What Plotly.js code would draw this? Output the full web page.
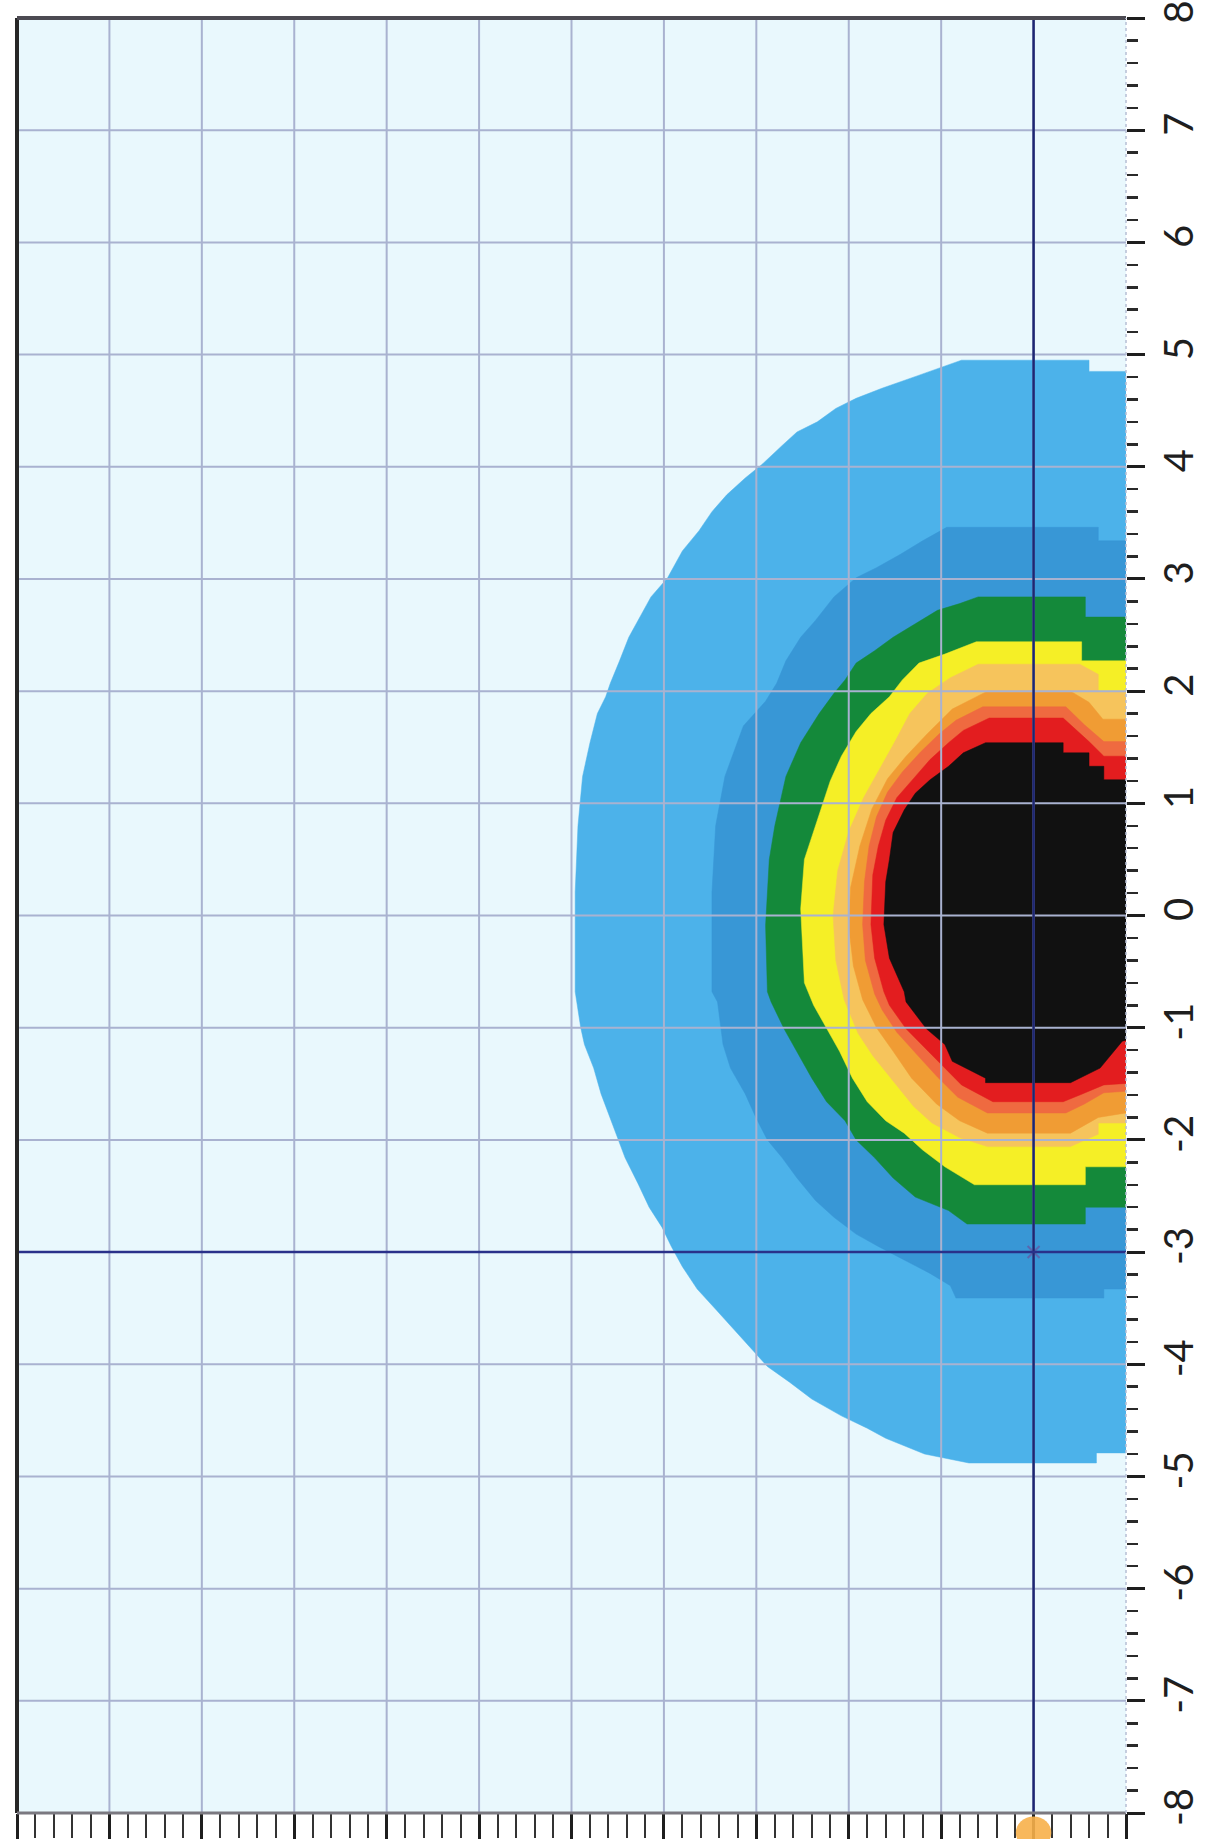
<!DOCTYPE html>
<html>
<head>
<meta charset="utf-8">
<script src="https://cdn.plot.ly/plotly-3.0.1.min.js"></script>
<style>
  html, body { margin: 0; padding: 0; background: #ffffff; }
  #chart { width: 1205px; height: 1839px; }
</style>
</head>
<body>
<div id="chart"></div>
<script>
// ---- Data (band outlines, x = grid units 0..12, y = -8..8) ----
const lightBlueX = [12.3, 11.6, 11.6, 10.22, 9.74, 9.36, 9.08, 8.86, 8.66, 8.44, 8.28, 8.06, 7.88, 7.68, 7.52, 7.38, 7.20, 7.04, 6.86, 6.74, 6.62, 6.52, 6.42, 6.37, 6.28, 6.20, 6.12, 6.07, 6.04, 6.04, 6.10, 6.14, 6.24, 6.32, 6.48, 6.58, 6.72, 6.84, 6.98, 7.08, 7.20, 7.36, 7.56, 7.76, 7.96, 8.12, 8.36, 8.60, 8.92, 9.20, 9.40, 9.82, 10.30, 11.68, 11.68, 12.3];
const lightBlueY = [4.85, 4.85, 4.95, 4.95, 4.81, 4.70, 4.61, 4.52, 4.40, 4.31, 4.19, 4.02, 3.90, 3.75, 3.60, 3.43, 3.25, 3.01, 2.84, 2.66, 2.48, 2.27, 2.07, 1.95, 1.80, 1.54, 1.24, 0.80, 0.21, -0.68, -1.00, -1.15, -1.36, -1.59, -1.94, -2.16, -2.39, -2.60, -2.78, -2.95, -3.13, -3.33, -3.51, -3.69, -3.87, -4.02, -4.16, -4.31, -4.46, -4.57, -4.66, -4.80, -4.88, -4.88, -4.79, -4.79];

const midBlueX = [12.3, 11.70, 11.70, 10.06, 9.80, 9.56, 9.30, 9.08, 8.84, 8.64, 8.48, 8.32, 8.22, 8.10, 7.86, 7.66, 7.56, 7.52, 7.52, 7.58, 7.64, 7.72, 7.88, 8.00, 8.12, 8.28, 8.44, 8.64, 8.84, 9.08, 9.32, 9.60, 9.88, 10.10, 10.16, 11.76, 11.76, 12.3];
const midBlueY = [3.34, 3.34, 3.46, 3.46, 3.34, 3.22, 3.10, 3.01, 2.84, 2.63, 2.48, 2.27, 2.07, 1.91, 1.69, 1.24, 0.80, 0.21, -0.68, -0.77, -1.15, -1.36, -1.59, -1.81, -2.00, -2.16, -2.34, -2.54, -2.69, -2.84, -2.95, -3.07, -3.19, -3.30, -3.41, -3.41, -3.33, -3.33];

const greenX = [12.3, 11.56, 11.56, 10.40, 10.20, 9.96, 9.72, 9.48, 9.28, 9.08, 8.96, 8.84, 8.68, 8.48, 8.32, 8.20, 8.14, 8.10, 8.12, 8.16, 8.30, 8.44, 8.60, 8.76, 8.96, 9.08, 9.28, 9.48, 9.72, 10.08, 10.28, 11.56, 11.56, 12.3];
const greenY = [2.66, 2.66, 2.84, 2.84, 2.78, 2.72, 2.60, 2.48, 2.36, 2.25, 2.10, 1.98, 1.80, 1.54, 1.24, 0.80, 0.50, -0.09, -0.68, -0.77, -1.01, -1.21, -1.45, -1.66, -1.83, -2.00, -2.16, -2.34, -2.51, -2.63, -2.75, -2.75, -2.60, -2.60];

const yellowX = [12.3, 11.52, 11.52, 10.38, 10.04, 9.76, 9.58, 9.44, 9.24, 9.08, 8.92, 8.80, 8.70, 8.62, 8.52, 8.48, 8.52, 8.62, 8.76, 8.90, 9.04, 9.20, 9.40, 9.60, 9.80, 10.04, 10.36, 11.56, 11.56, 12.3];
const yellowY = [2.27, 2.27, 2.44, 2.44, 2.33, 2.25, 2.10, 1.95, 1.80, 1.64, 1.42, 1.20, 0.95, 0.75, 0.50, 0.06, -0.60, -0.80, -1.01, -1.21, -1.45, -1.66, -1.83, -1.94, -2.09, -2.24, -2.40, -2.40, -2.24, -2.24];

const paleOrangeX = [12.3, 11.70, 11.70, 11.50, 10.40, 10.10, 9.85, 9.66, 9.50, 9.33, 9.16, 9.00, 8.88, 8.83, 8.86, 8.95, 9.10, 9.26, 9.50, 9.70, 9.90, 10.20, 10.50, 11.40, 11.70, 11.70, 12.3];
const paleOrangeY = [2.00, 2.00, 2.15, 2.24, 2.24, 2.12, 1.98, 1.80, 1.55, 1.30, 1.05, 0.75, 0.40, 0.00, -0.40, -0.75, -1.05, -1.25, -1.50, -1.70, -1.85, -1.98, -2.06, -2.06, -1.95, -1.85, -1.85];

const orangeX = [12.3, 11.75, 11.60, 11.40, 10.50, 10.12, 9.85, 9.62, 9.42, 9.25, 9.12, 9.02, 9.00, 9.05, 9.15, 9.30, 9.48, 9.68, 9.95, 10.20, 10.50, 11.40, 11.70, 12.3];
const orangeY = [1.75, 1.75, 1.90, 2.00, 2.00, 1.84, 1.62, 1.42, 1.22, 0.95, 0.62, 0.25, -0.10, -0.45, -0.75, -1.00, -1.21, -1.45, -1.68, -1.83, -1.94, -1.94, -1.80, -1.72];

const salmonX = [12.3, 11.76, 11.55, 11.35, 10.45, 10.16, 9.98, 9.78, 9.58, 9.42, 9.30, 9.22, 9.17, 9.15, 9.18, 9.28, 9.36, 9.52, 9.76, 9.96, 10.18, 10.50, 11.35, 11.55, 11.76, 12.3];
const salmonY = [1.55, 1.55, 1.70, 1.86, 1.86, 1.74, 1.62, 1.46, 1.28, 1.10, 0.88, 0.62, 0.30, -0.08, -0.40, -0.70, -0.84, -1.04, -1.26, -1.44, -1.62, -1.76, -1.76, -1.68, -1.58, -1.55];

const redX = [12.3, 11.76, 11.60, 11.32, 10.52, 10.24, 10.08, 9.88, 9.70, 9.52, 9.40, 9.32, 9.26, 9.24, 9.28, 9.38, 9.44, 9.62, 9.86, 10.04, 10.22, 10.56, 11.32, 11.50, 11.76, 12.3];
const redY = [1.42, 1.42, 1.55, 1.76, 1.76, 1.65, 1.54, 1.39, 1.22, 1.05, 0.85, 0.62, 0.36, -0.08, -0.38, -0.68, -0.80, -1.01, -1.21, -1.36, -1.51, -1.66, -1.66, -1.60, -1.51, -1.48];

const blackX = [12.3, 11.76, 11.76, 11.60, 11.60, 11.32, 11.32, 10.48, 10.24, 10.08, 9.88, 9.72, 9.60, 9.48, 9.44, 9.40, 9.38, 9.44, 9.60, 9.62, 9.84, 10.04, 10.12, 10.48, 10.48, 11.40, 11.72, 11.96, 12.3];
const blackY = [1.21, 1.21, 1.33, 1.33, 1.45, 1.45, 1.54, 1.54, 1.45, 1.33, 1.21, 1.09, 0.94, 0.74, 0.50, 0.30, -0.08, -0.38, -0.68, -0.77, -1.01, -1.15, -1.30, -1.45, -1.49, -1.49, -1.36, -1.12, -1.05];

const bandColors = ["#4cb2ea", "#3897d6", "#14893a", "#f5ef26", "#f6c45c", "#f09c34", "#ef6a40", "#e31d1f", "#111111"];

const yTickValues = [-8, -7, -6, -5, -4, -3, -2, -1, 0, 1, 2, 3, 4, 5, 6, 7, 8];
const yTickLabels = ["-8", "-7", "-6", "-5", "-4", "-3", "-2", "-1", "0", "1", "2", "3", "4", "5", "6", "7", "8"];
const xGridValues = [1, 2, 3, 4, 5, 6, 7, 8, 9, 10, 11];
const yGridValues = [-7, -6, -5, -4, -3, -2, -1, 0, 1, 2, 3, 4, 5, 6, 7];
const cursorX = [11];
const cursorY = [-3];
const xMax = 12;

// ---- Build traces ----
const bandsX = [lightBlueX, midBlueX, greenX, yellowX, paleOrangeX, orangeX, salmonX, redX, blackX];
const bandsY = [lightBlueY, midBlueY, greenY, yellowY, paleOrangeY, orangeY, salmonY, redY, blackY];

const traces = bandsX.map((bx, i) => ({
  type: "scatter",
  mode: "lines",
  x: bx,
  y: bandsY[i],
  fill: "toself",
  fillcolor: bandColors[i],
  line: { width: 0.5, color: bandColors[i] },
  hoverinfo: "skip"
}));

traces.push({
  type: "scatter", mode: "markers",
  x: cursorX, y: cursorY,
  marker: { symbol: "x-thin-open", size: 12, color: "#5a66b0", line: { width: 2, color: "#5a66b0" } },
  hoverinfo: "skip"
});

// ---- Shapes: grid above the map, cursor lines, frame ----
const gridColor = "#a9b2d0";
const shapes = [];
xGridValues.forEach(v => shapes.push({ type: "line", layer: "above", xref: "x", yref: "paper", x0: v, x1: v, y0: 0, y1: 1, line: { color: gridColor, width: 2 } }));
yGridValues.forEach(v => shapes.push({ type: "line", layer: "above", xref: "paper", yref: "y", x0: 0, x1: 1, y0: v, y1: v, line: { color: gridColor, width: 2 } }));
shapes.push({ type: "line", layer: "above", xref: "x", yref: "paper", x0: cursorX[0], x1: cursorX[0], y0: 0, y1: 1, line: { color: "#1d2672", width: 2.5 } });
shapes.push({ type: "line", layer: "above", xref: "paper", yref: "y", x0: 0, x1: 1, y0: cursorY[0], y1: cursorY[0], line: { color: "#29318a", width: 2.5 } });
shapes.push({ type: "line", layer: "above", xref: "paper", yref: "paper", x0: 0, x1: 0, y0: 0, y1: 1, line: { color: "#262626", width: 4 } });
shapes.push({ type: "line", layer: "above", xref: "paper", yref: "paper", x0: 0, x1: 1, y0: 1, y1: 1, line: { color: "#4c4a52", width: 4 } });
shapes.push({ type: "line", layer: "above", xref: "paper", yref: "paper", x0: 0, x1: 1, y0: 0, y1: 0, line: { color: "#7a7880", width: 3 } });
shapes.push({ type: "line", layer: "above", xref: "paper", yref: "paper", x0: 1, x1: 1, y0: 0, y1: 1, line: { color: "#b6bfd4", width: 1.5, dash: "dot" } });
// orange cursor handle under the axis at the cursor position
const cxp = cursorX[0] / xMax;
shapes.push({ type: "circle", layer: "above", xref: "paper", yref: "paper", x0: cxp - 0.016, x1: cxp + 0.016, y0: -0.02, y1: -0.002, fillcolor: "rgba(247,176,74,0.9)", line: { width: 0 } });

const layout = {
  width: 1205,
  height: 1839,
  margin: { l: 17, r: 79, t: 18, b: 26 },
  paper_bgcolor: "#ffffff",
  plot_bgcolor: "#e9f8fd",
  showlegend: false,
  xaxis: {
    range: [0, xMax],
    showgrid: false, zeroline: false, showline: false,
    showticklabels: false,
    ticks: "outside", tickmode: "linear", tick0: 0, dtick: 1,
    ticklen: 26, tickwidth: 3, tickcolor: "#1e1e1e",
    minor: { tickmode: "linear", tick0: 0, dtick: 0.2, ticks: "outside", ticklen: 24, tickwidth: 2, tickcolor: "#333333", showgrid: false },
    fixedrange: true
  },
  yaxis: {
    side: "right",
    range: [-8, 8],
    showgrid: false, zeroline: false, showline: false,
    tickmode: "array", tickvals: yTickValues, ticktext: yTickLabels,
    ticks: "outside", ticklen: 18, tickwidth: 3, tickcolor: "#1e1e1e",
    tickangle: -90,
    ticklabeloverflow: "allow",
    tickfont: { family: "'Liberation Sans Narrow', Lato, sans-serif", size: 40, color: "#1e1e1e" },
    minor: { tickmode: "linear", tick0: 0, dtick: 0.2, ticks: "outside", ticklen: 11, tickwidth: 2.5, tickcolor: "#2a2a2a", showgrid: false },
    fixedrange: true
  },
  shapes: shapes
};

Plotly.newPlot("chart", traces, layout, { displayModeBar: false, staticPlot: true });
</script>
</body>
</html>
